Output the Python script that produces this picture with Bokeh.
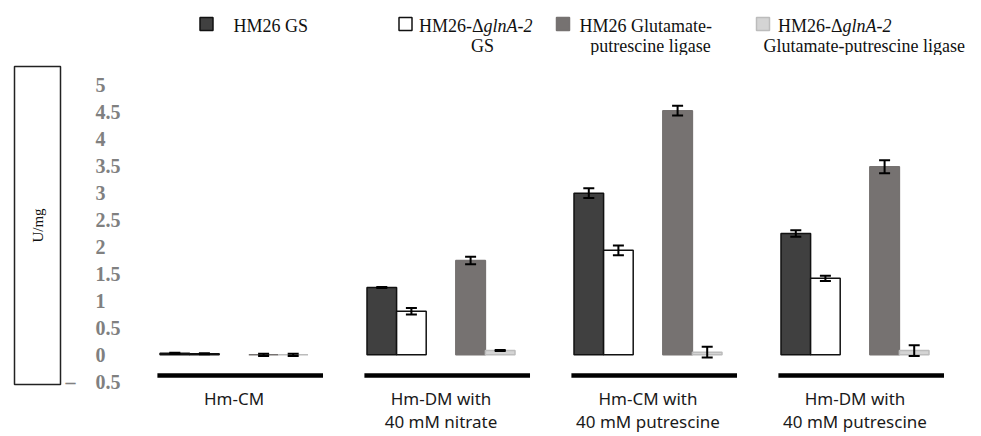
import math
from bokeh.plotting import figure
from bokeh.models import ColumnDataSource, FactorRange, Range1d, FixedTicker, Whisker, TeeHead
from bokeh.transform import dodge
from bokeh.layouts import column, row
from bokeh.embed import file_html
from bokeh.resources import INLINE
from bokeh.core.properties import value

# ---------------- data ----------------
conditions = ["Hm-CM", "Hm-DM with\n40 mM nitrate", "Hm-CM with\n40 mM putrescine", "Hm-DM with\n40 mM putrescine"]
series_names = ["HM26 GS", "HM26-\u0394glnA-2 GS", "HM26 Glutamate-putrescine ligase",
                "HM26-\u0394glnA-2 Glutamate-putrescine ligase"]
gs_wt = [0.03, 1.25, 3.00, 2.25]
gs_wt_err = [0.01, 0.01, 0.09, 0.06]
gs_mut = [0.02, 0.81, 1.94, 1.42]
gs_mut_err = [0.01, 0.06, 0.09, 0.05]
gpl_wt = [0.00, 1.75, 4.53, 3.49]
gpl_wt_err = [0.02, 0.07, 0.09, 0.12]
gpl_mut = [0.00, 0.08, 0.05, 0.08]
gpl_mut_err = [0.02, 0.01, 0.10, 0.10]
y_ticks = [-0.5, 0.0, 0.5, 1.0, 1.5, 2.0, 2.5, 3.0, 3.5, 4.0, 4.5, 5.0]
y_tick_labels = ["-0.5", "0", "0.5", "1", "1.5", "2", "2.5", "3", "3.5", "4", "4.5", "5"]
y_axis_title = "U/mg"

# ---------------- styles ----------------
keys = ["gs_wt", "gs_mut", "gpl_wt", "gpl_mut"]
fills = ["#404040", "#ffffff", "#767271", "#d4d4d4"]
lines = ["#111111", "#111111", "#767271", "#bcbcbc"]
bw = 0.143
offsets = [-2 * bw, -bw, bw, 2 * bw]

vals = {"gs_wt": (gs_wt, gs_wt_err), "gs_mut": (gs_mut, gs_mut_err),
        "gpl_wt": (gpl_wt, gpl_wt_err), "gpl_mut": (gpl_mut, gpl_mut_err)}
data = {"cond": conditions}
for k, (v, e) in vals.items():
    data[k] = v
    data[k + "_lo"] = [a - b for a, b in zip(v, e)]
    data[k + "_hi"] = [a + b for a, b in zip(v, e)]
src = ColumnDataSource(data)

# ---------------- main plot ----------------
p = figure(x_range=FactorRange(factors=conditions, range_padding=0, factor_padding=0),
           y_range=Range1d(-0.55, 5.35), width=918, height=380,
           output_backend="svg", toolbar_location=None,
           min_border_left=68, min_border_right=22, min_border_top=11, min_border_bottom=40)
p.grid.visible = False
p.outline_line_color = None

for k, off, fc, lc in zip(keys, offsets, fills, lines):
    p.vbar(x=dodge("cond", off, range=p.x_range), top=k, bottom=0, width=bw, source=src,
           fill_color=fc, line_color=lc, line_width=1.5)
    w = Whisker(source=src, base=dodge("cond", off, range=p.x_range), upper=k + "_hi", lower=k + "_lo",
                line_color="black", line_width=2, level="annotation",
                upper_head=TeeHead(size=11, line_width=2, line_color="black"),
                lower_head=TeeHead(size=11, line_width=2, line_color="black"))
    p.add_layout(w)

p.segment(x0=dodge("cond", -0.37, range=p.x_range), x1=dodge("cond", 0.43, range=p.x_range),
          y0=-0.385, y1=-0.385, source=src, line_color="black", line_width=4.5)

p.xaxis.axis_line_color = None
p.xaxis.major_tick_line_color = None
p.xaxis.minor_tick_line_color = None
p.xaxis.major_tick_out = 0
p.xaxis.major_label_text_font = "Noto Sans"
p.xaxis.major_label_text_font_size = "17px"
p.xaxis.major_label_text_color = "#1a1a1a"
p.xaxis.major_label_text_line_height = 1.0
p.xaxis.major_label_standoff = 2


def pad(lbl):
    # display form: left-aligned look, separated minus sign
    if lbl.startswith("-"):
        return "\u2013\u00a0\u00a0\u00a0\u00a0" + lbl[1:]
    if "." not in lbl:
        return lbl + "\u2008\u2007"
    return lbl


p.yaxis.ticker = FixedTicker(ticks=y_ticks)
p.yaxis.major_label_overrides = {t: pad(l) for t, l in zip(y_ticks, y_tick_labels)}
p.yaxis.axis_line_color = None
p.yaxis.major_tick_line_color = None
p.yaxis.minor_tick_line_color = None
p.yaxis.major_tick_out = 0
p.yaxis.major_label_text_font = "Liberation Serif"
p.yaxis.major_label_text_font_style = "bold"
p.yaxis.major_label_text_font_size = "20px"
p.yaxis.major_label_text_color = "#808080"
p.yaxis.major_label_standoff = 10

# ---------------- boxed y-axis title ----------------
b = figure(width=62, height=380, x_range=Range1d(0, 1), y_range=Range1d(0, 1),
           x_axis_type=None, y_axis_type=None, output_backend="svg", toolbar_location=None,
           min_border_left=14, min_border_right=2, min_border_top=11, min_border_bottom=40)
b.outline_line_color = "#222222"
b.outline_line_width = 1.5
b.text(x=[0.5], y=[0.5], text=[y_axis_title], angle=math.pi / 2, text_align="center",
       text_baseline="middle", text_font=value("Liberation Serif"), text_font_size="15px",
       text_color="#111111")

# ---------------- legend ----------------
lg = figure(width=980, height=55, x_range=Range1d(0, 980), y_range=Range1d(0, 55),
            x_axis_type=None, y_axis_type=None, output_backend="svg", toolbar_location=None,
            min_border=0)
lg.outline_line_color = None
sq_x = [206, 405, 562.5, 762.5]
lg.scatter(x=sq_x, y=[31.5] * 4, marker="square", size=13, fill_color=fills,
           line_color=["#111111", "#111111", "#767271", "#bcbcbc"], line_width=1.5)
font = value("Liberation Serif")
fs = "18px"
tcol = "#111111"


def txt(x, y, s, align="left", style="normal"):
    lg.text(x=[x], y=[y], text=[s], text_align=align, text_baseline="middle", text_font=font,
            text_font_size=fs, text_font_style=style, text_color=tcol)


txt(233, 30, "HM26 GS")
txt(483, 30, "HM26-\u0394", align="right")
txt(483, 30, "glnA-2", style="italic")
txt(482, 10, "GS", align="center")
txt(579, 30, "HM26 Glutamate-")
txt(650, 10, "putrescine ligase", align="center")
txt(842, 30, "HM26-\u0394", align="right")
txt(842, 30, "glnA-2", style="italic")
txt(763, 10, "Glutamate-putrescine ligase")

layout = column(lg, row(b, p, spacing=0), spacing=0)
open("out.html", "w").write(file_html(layout, INLINE))
